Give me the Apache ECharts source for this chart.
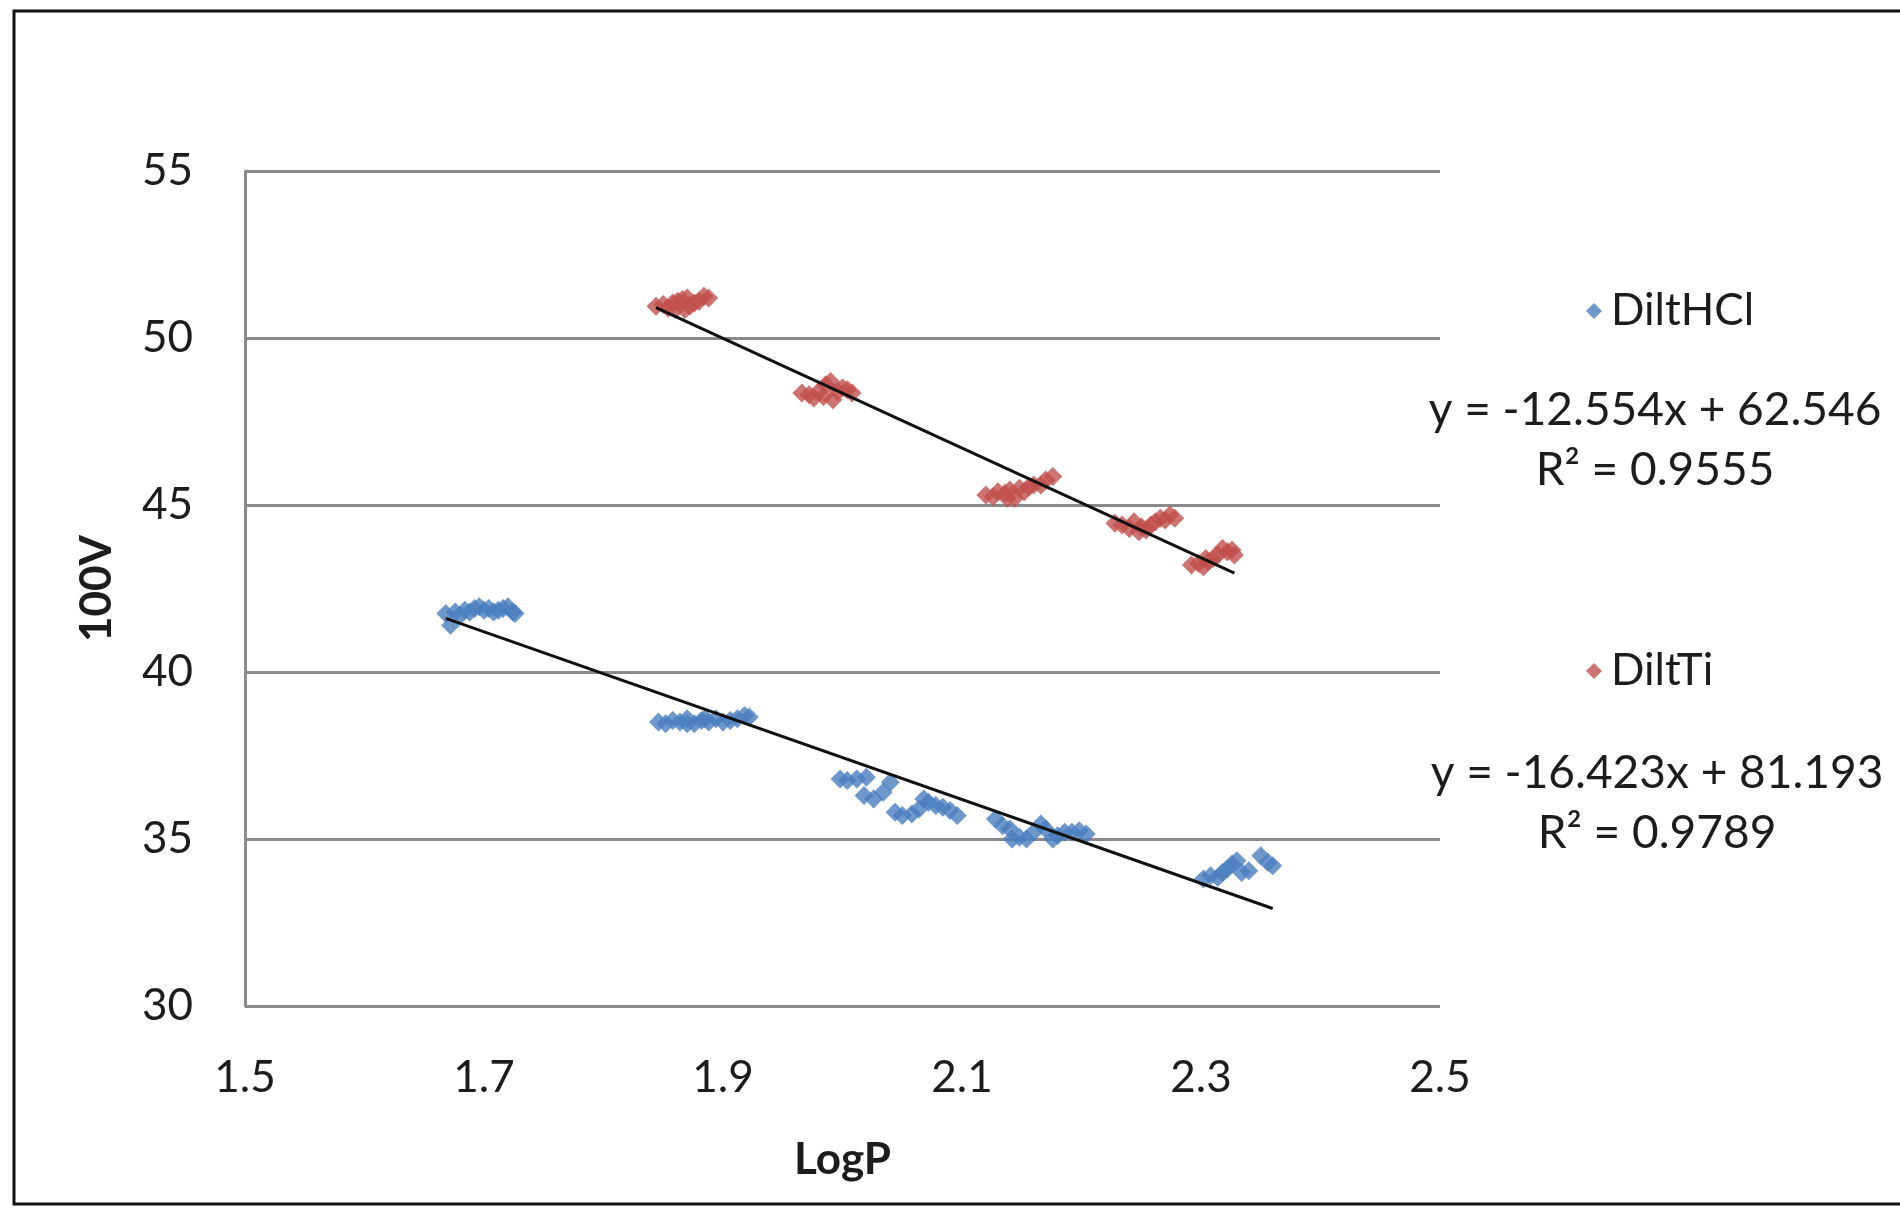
<!DOCTYPE html>
<html>
<head>
<meta charset="utf-8">
<title>100V vs LogP</title>
<script src="https://cdn.jsdelivr.net/npm/echarts@6/dist/echarts.min.js"></script>
<style>
  html, body { margin: 0; padding: 0; background: #fff; }
  #chart { width: 1900px; height: 1212px; }
</style>
</head>
<body>
<div id="chart"></div>
<script>
// DiltHCl (blue)
const hclLogP = [
  1.668, 1.672, 1.676, 1.680, 1.684, 1.688, 1.692, 1.696, 1.700, 1.704, 1.708, 1.712, 1.716, 1.720, 1.724, 1.726,
  1.846, 1.852, 1.858, 1.864, 1.870, 1.876, 1.882, 1.888, 1.894, 1.900, 1.906, 1.912, 1.918, 1.922, 1.870, 1.885,
  1.998, 2.004, 2.012, 2.020, 2.018, 2.026, 2.034, 2.040, 2.044, 2.050, 2.058, 2.064, 2.068, 2.072, 2.078, 2.084, 2.090, 2.096,
  2.128, 2.134, 2.140, 2.142, 2.148, 2.154, 2.160, 2.166, 2.170, 2.176, 2.180, 2.186, 2.192, 2.198, 2.204,
  2.302, 2.308, 2.314, 2.318, 2.322, 2.326, 2.330, 2.334, 2.340, 2.350, 2.356, 2.360
];
const hclV = [
  41.75, 41.40, 41.80, 41.70, 41.85, 41.80, 41.90, 41.95, 41.85, 41.90, 41.80, 41.85, 41.90, 41.95, 41.80, 41.75,
  38.50, 38.45, 38.55, 38.50, 38.60, 38.45, 38.55, 38.50, 38.60, 38.50, 38.55, 38.60, 38.70, 38.65, 38.45, 38.60,
  36.80, 36.75, 36.80, 36.85, 36.30, 36.20, 36.40, 36.70, 35.80, 35.70, 35.75, 35.90, 36.20, 36.10, 36.00, 35.95, 35.85, 35.70,
  35.60, 35.40, 35.30, 35.00, 35.05, 35.00, 35.20, 35.45, 35.30, 35.00, 35.10, 35.20, 35.20, 35.25, 35.15,
  33.80, 33.90, 33.85, 34.00, 34.10, 34.25, 34.35, 34.00, 34.05, 34.50, 34.30, 34.20
];

// DiltTi (red)
const tiLogP = [
  1.844, 1.850, 1.854, 1.858, 1.862, 1.866, 1.870, 1.872, 1.876, 1.880, 1.884, 1.888, 1.860, 1.868,
  1.966, 1.972, 1.976, 1.980, 1.984, 1.986, 1.990, 1.992, 1.996, 2.000, 2.004, 2.008,
  2.120, 2.126, 2.130, 2.136, 2.140, 2.144, 2.148, 2.152, 2.156, 2.160, 2.166, 2.170, 2.176, 2.138,
  2.228, 2.234, 2.240, 2.244, 2.250, 2.254, 2.258, 2.262, 2.266, 2.270, 2.274, 2.278, 2.248,
  2.292, 2.298, 2.302, 2.306, 2.310, 2.314, 2.318, 2.322, 2.326, 2.328, 2.304
];
const tiV = [
  50.95, 51.00, 50.90, 51.05, 51.10, 51.15, 51.20, 50.95, 51.05, 51.10, 51.25, 51.20, 50.85, 50.85,
  48.35, 48.30, 48.20, 48.40, 48.25, 48.60, 48.70, 48.15, 48.40, 48.50, 48.45, 48.35,
  45.30, 45.25, 45.40, 45.35, 45.45, 45.20, 45.50, 45.40, 45.55, 45.60, 45.60, 45.75, 45.85, 45.20,
  44.45, 44.40, 44.30, 44.50, 44.35, 44.25, 44.40, 44.50, 44.60, 44.55, 44.70, 44.60, 44.20,
  43.20, 43.25, 43.15, 43.30, 43.40, 43.50, 43.70, 43.60, 43.65, 43.50, 43.40
];

// linear trendline coefficients [slope, intercept] and labels
const hclFit = [-12.554, 62.546];
const tiFit = [-16.423, 81.193];
const hclEq = ['y = -12.554x + 62.546', 'R² = 0.9555'];
const tiEq = ['y = -16.423x + 81.193', 'R² = 0.9789'];

const xTicks = { min: 1.5, max: 2.5, interval: 0.2 };
const yTicks = { min: 30, max: 55, interval: 5 };

const BLUE = '#4a7ebf';
const RED = '#c0504d';
const TEXT = '#1c1c1c';
const FONT = 'Lato, "Open Sans", sans-serif';

const zip = (xs, ys) => xs.map((x, i) => [x, ys[i]]);
const trend = (xs, fit) => {
  const lo = Math.min(...xs), hi = Math.max(...xs);
  return [[lo, fit[0] * lo + fit[1]], [hi, fit[0] * hi + fit[1]]];
};

const chart = echarts.init(document.getElementById('chart'));

// equation + R² block, centred on cx, first line middle at cy
const eqText = (lines, cx, cy) => lines.map((t, i) => ({
  type: 'text',
  x: cx,
  y: cy + i * 60,
  style: {
    text: t, font: '46px ' + FONT, fill: TEXT,
    textAlign: 'center', textVerticalAlign: 'middle'
  }
}));

const option = {
  backgroundColor: '#fff',
  animation: false,
  grid: { left: 245, right: 460, top: 171, bottom: 206 },
  xAxis: {
    type: 'value',
    min: xTicks.min, max: xTicks.max, interval: xTicks.interval,
    name: 'LogP',
    nameLocation: 'middle',
    nameGap: 132,
    nameTextStyle: { fontFamily: FONT, fontSize: 44, fontWeight: 'bold', color: TEXT },
    axisLine: { show: false },
    axisTick: { show: false },
    splitLine: { show: false },
    axisLabel: {
      fontFamily: FONT, fontSize: 44, color: TEXT, margin: 50,
      formatter: v => v.toFixed(1)
    }
  },
  yAxis: {
    type: 'value',
    min: yTicks.min, max: yTicks.max, interval: yTicks.interval,
    name: '100V',
    nameLocation: 'middle',
    nameGap: 126,
    nameRotate: 90,
    nameTextStyle: { fontFamily: FONT, fontSize: 44, fontWeight: 'bold', color: TEXT },
    axisLine: { show: true, lineStyle: { color: '#8a8a8a', width: 3 } },
    axisTick: { show: false },
    splitLine: { show: true, lineStyle: { color: '#8a8a8a', width: 3 } },
    axisLabel: { fontFamily: FONT, fontSize: 44, color: TEXT, margin: 52 }
  },
  legend: [
    {
      data: ['DiltHCl'],
      left: 1581, top: 284,
      icon: 'diamond', itemWidth: 16, itemHeight: 16, itemGap: 0,
      textStyle: { fontFamily: FONT, fontSize: 44, color: TEXT, padding: [0, 0, 0, 4] }
    },
    {
      data: ['DiltTi'],
      left: 1581, top: 644,
      icon: 'diamond', itemWidth: 16, itemHeight: 16, itemGap: 0,
      textStyle: { fontFamily: FONT, fontSize: 44, color: TEXT, padding: [0, 0, 0, 4] }
    }
  ],
  graphic: [
    {
      type: 'rect',
      shape: { x: 14, y: 11, width: 1920, height: 1193 },
      style: { fill: 'none', stroke: '#111', lineWidth: 3 },
      silent: true
    },
    ...eqText(hclEq, 1655, 410),
    ...eqText(tiEq, 1657, 773)
  ],
  series: [
    {
      name: 'DiltHCl', type: 'scatter', symbol: 'diamond', symbolSize: 19,
      itemStyle: { color: BLUE }, data: zip(hclLogP, hclV), z: 3
    },
    {
      name: 'DiltTi', type: 'scatter', symbol: 'diamond', symbolSize: 19,
      itemStyle: { color: RED }, data: zip(tiLogP, tiV), z: 3
    },
    {
      name: 'hclTrend', type: 'line', showSymbol: false, symbol: 'none',
      lineStyle: { color: '#111', width: 3 }, data: trend(hclLogP, hclFit), z: 4
    },
    {
      name: 'tiTrend', type: 'line', showSymbol: false, symbol: 'none',
      lineStyle: { color: '#111', width: 3 }, data: trend(tiLogP, tiFit), z: 4
    }
  ]
};

chart.setOption(option);
</script>
</body>
</html>
